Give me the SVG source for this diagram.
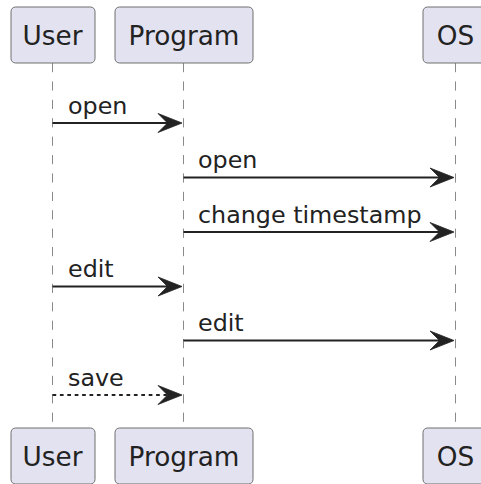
<svg xmlns="http://www.w3.org/2000/svg" width="481" height="484" viewBox="0 0 481 484">
<style>
.box{fill:#E2E2F0;stroke:#6f6f6f;stroke-width:1}
.pt{font-family:"DejaVu Sans",sans-serif;font-size:26.3px;fill:#222;text-anchor:middle}
.mt{font-family:"DejaVu Sans",sans-serif;font-size:23.8px;fill:#222}
.life{stroke:#8a8a8a;stroke-width:1;stroke-dasharray:9.2,9.2;fill:none}
.msg{stroke:#222;stroke-width:1.8;fill:none}
.dash{stroke-dasharray:3.7,3.7}
.head{fill:#222;stroke:#222;stroke-width:0.8}
</style>
<defs>
<polygon id="ah" points="-24,-9.5 0,0 -24,9.5 -14.5,0"/>
</defs>
<g id="lifelines">
<line class="life" x1="52.5" y1="63" x2="52.5" y2="428"/>
<line class="life" x1="183.5" y1="63" x2="183.5" y2="428"/>
<line class="life" x1="455.5" y1="63" x2="455.5" y2="428"/>
</g>
<g id="User">
<rect class="box" x="11" y="7" width="84" height="56" rx="4.5"/>
<text class="pt" x="52.5" y="44.5">User</text>
</g>
<g id="Program">
<rect class="box" x="115" y="7" width="138" height="56" rx="4.5"/>
<text class="pt" x="184" y="44.5">Program</text>
</g>
<g id="OS">
<rect class="box" x="423" y="7" width="65" height="56" rx="4.5"/>
<text class="pt" x="455.5" y="44.5">OS</text>
</g>
<g id="User-bottom">
<rect class="box" x="11" y="428" width="84" height="56" rx="4.5"/>
<text class="pt" x="52.5" y="465.5">User</text>
</g>
<g id="Program-bottom">
<rect class="box" x="115" y="428" width="138" height="56" rx="4.5"/>
<text class="pt" x="184" y="465.5">Program</text>
</g>
<g id="OS-bottom">
<rect class="box" x="423" y="428" width="65" height="56" rx="4.5"/>
<text class="pt" x="455.5" y="465.5">OS</text>
</g>
<g id="connectors">
<line class="msg" x1="52.5" y1="123" x2="176" y2="123"/>
<use href="#ah" class="head" transform="translate(182,123)"/>
<text class="mt" x="68" y="113.5">open</text>

<line class="msg" x1="183.5" y1="177.5" x2="448" y2="177.5"/>
<use href="#ah" class="head" transform="translate(454,177.5)"/>
<text class="mt" x="198" y="168">open</text>

<line class="msg" x1="183.5" y1="232" x2="448" y2="232"/>
<use href="#ah" class="head" transform="translate(454,232)"/>
<text class="mt" x="198" y="222.5">change timestamp</text>

<line class="msg" x1="52.5" y1="286.5" x2="176" y2="286.5"/>
<use href="#ah" class="head" transform="translate(182,286.5)"/>
<text class="mt" x="68" y="277">edit</text>

<line class="msg" x1="183.5" y1="340.5" x2="448" y2="340.5"/>
<use href="#ah" class="head" transform="translate(454,340.5)"/>
<text class="mt" x="198" y="331">edit</text>

<line class="msg dash" x1="52.5" y1="395" x2="176" y2="395"/>
<use href="#ah" class="head" transform="translate(182,395)"/>
<text class="mt" x="68" y="385.5">save</text>
</g>
</svg>
